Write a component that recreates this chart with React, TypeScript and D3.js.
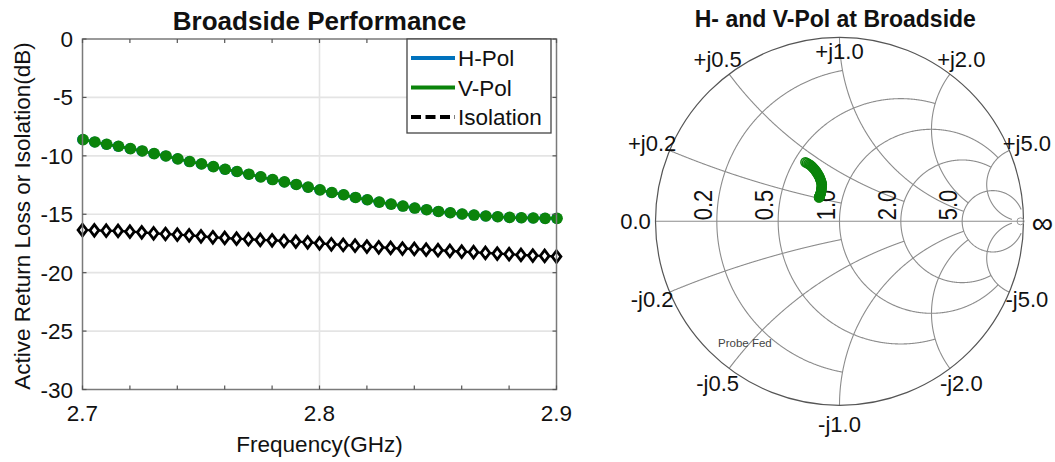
import React from 'react';
import * as d3 from 'd3';

// ---------------- data ----------------
const freqGHz = [
  2.700, 2.705, 2.710, 2.715, 2.720, 2.725, 2.730, 2.735, 2.740, 2.745,
  2.750, 2.755, 2.760, 2.765, 2.770, 2.775, 2.780, 2.785, 2.790, 2.795,
  2.800, 2.805, 2.810, 2.815, 2.820, 2.825, 2.830, 2.835, 2.840, 2.845,
  2.850, 2.855, 2.860, 2.865, 2.870, 2.875, 2.880, 2.885, 2.890, 2.895, 2.900,
];
const vPolDb = [
  -8.61, -8.81, -9.01, -9.18, -9.38, -9.58, -9.81, -10.01, -10.26, -10.49,
  -10.69, -10.92, -11.15, -11.34, -11.57, -11.80, -12.03, -12.23, -12.45, -12.68,
  -12.91, -13.14, -13.33, -13.56, -13.76, -13.96, -14.13, -14.30, -14.47, -14.61,
  -14.76, -14.87, -14.98, -15.07, -15.15, -15.21, -15.27, -15.30, -15.32, -15.35, -15.35,
];
const hPolDb = [
  -8.61, -8.81, -9.01, -9.18, -9.38, -9.58, -9.81, -10.01, -10.26, -10.49,
  -10.69, -10.92, -11.15, -11.34, -11.57, -11.80, -12.03, -12.23, -12.45, -12.68,
  -12.91, -13.14, -13.33, -13.56, -13.76, -13.96, -14.13, -14.30, -14.47, -14.61,
  -14.76, -14.87, -14.98, -15.07, -15.15, -15.21, -15.27, -15.30, -15.32, -15.35, -15.35,
];
const isolationDb = [
  -16.35, -16.38, -16.41, -16.43, -16.49, -16.55, -16.63, -16.69, -16.75, -16.80,
  -16.89, -16.97, -17.03, -17.09, -17.14, -17.20, -17.23, -17.29, -17.34, -17.40,
  -17.49, -17.57, -17.63, -17.69, -17.77, -17.83, -17.88, -17.94, -17.97, -18.03,
  -18.08, -18.14, -18.20, -18.25, -18.31, -18.37, -18.42, -18.48, -18.54, -18.57, -18.62,
];
// phase of the reflection coefficient (deg)
const vPolPhaseDeg = [
  120.0, 119.2, 118.4, 117.6, 117.1, 116.6, 116.2, 115.8, 115.4, 115.1,
  114.9, 114.7, 114.5, 114.4, 114.4, 114.4, 114.5, 114.6, 114.8, 115.0,
  115.2, 115.8, 116.6, 117.5, 118.4, 119.3, 120.2, 121.1, 122.0, 123.0,
  124.0, 125.2, 126.4, 127.0, 127.6, 128.2, 128.8, 129.3, 129.8, 130.3, 130.8,
];

const xTickValues = [2.7, 2.8, 2.9];
const xTickLabels = ['2.7', '2.8', '2.9'];
const xMinorTicks = [2.7, 2.72, 2.74, 2.76, 2.78, 2.8, 2.82, 2.84, 2.86, 2.88, 2.9];
const yTickValues = [0, -5, -10, -15, -20, -25, -30];
const yTickLabels = ['0', '-5', '-10', '-15', '-20', '-25', '-30'];
const legendLabels = ['H-Pol', 'V-Pol', 'Isolation'];

const smithGridValues = [0.2, 0.5, 1.0, 2.0, 5.0];
const smithGridEnds = [1.0, 2.0, 5.0, 5.0, 30];
const smithResLabels = ['0.2', '0.5', '1.0', '2.0', '5.0'];
const smithPosLabels = ['+j0.2', '+j0.5', '+j1.0', '+j2.0', '+j5.0'];
const smithNegLabels = ['-j0.2', '-j0.5', '-j1.0', '-j2.0', '-j5.0'];

// ---------------- styles ----------------
const FONT = '"Liberation Sans", Arial, Helvetica, sans-serif';
const GREEN = '#0b840b';
const BLUE = '#0072BD';

function gamma(r: number, xv: number): [number, number] {
  const d = (r + 1) * (r + 1) + xv * xv;
  return [(r * r + xv * xv - 1) / d, (2 * xv) / d];
}

export default function App() {
  // left chart
  const L = { left: 82.5, right: 556.5, top: 39, bottom: 389.5 };
  const x = d3.scaleLinear().domain([2.7, 2.9]).range([L.left, L.right]);
  const y = d3.scaleLinear().domain([-30, 0]).range([L.bottom, L.top]);
  const line = d3
    .line<number>()
    .x((_, i) => x(freqGHz[i]))
    .y((d) => y(d));

  const diamond = 'M0,-5.8L4.4,0L0,5.8L-4.4,0Z';

  // smith chart
  const S = { cx: 839.5, cy: 221.3, R: 184 };
  const sx = d3.scaleLinear().domain([-1, 1]).range([S.cx - S.R, S.cx + S.R]);
  const sy = d3.scaleLinear().domain([-1, 1]).range([S.cy + S.R, S.cy - S.R]);
  const gline = d3
    .line<[number, number]>()
    .x((p) => sx(p[0]))
    .y((p) => sy(p[1]));

  const N = 600;
  const resArcs = smithGridValues.map((r, i) => {
    const xe = smithGridEnds[i];
    const pts = d3.range(0, N + 1).map((k) => gamma(r, -xe + (2 * xe * k) / N));
    return gline(pts) as string;
  });
  const reactArcs: string[] = [];
  smithGridValues.forEach((v, i) => {
    const re = smithGridEnds[i];
    [1, -1].forEach((s) => {
      const pts = d3.range(0, N + 1).map((k) => gamma((re * k) / N, s * v));
      reactArcs.push(gline(pts) as string);
    });
  });

  const smithPts = vPolDb.map((db, i) => {
    const m = Math.pow(10, db / 20);
    const a = (vPolPhaseDeg[i] * Math.PI) / 180;
    return [m * Math.cos(a), m * Math.sin(a)] as [number, number];
  });

  const reactLabelPos = (v: number, s: number) => {
    const [gr, gi] = gamma(0, s * v);
    const d = s > 0 && v === 1 ? -14 : 19;
    return [sx(gr) + gr * d, sy(gi) - gi * d];
  };

  return (
    <svg
      width={1055}
      height={462}
      style={{ position: 'absolute', left: 0, top: 0, display: 'block', background: '#fff' }}
      fontFamily={FONT}
    >
      <rect x={0} y={0} width={1055} height={462} fill="#fff" />

      {/* ======== LEFT CHART ======== */}
      {yTickValues
        .filter((v) => v !== 0 && v !== -30)
        .map((v) => (
          <line key={'gy' + v} x1={L.left} x2={L.right} y1={y(v)} y2={y(v)} stroke="#e4e4e4" strokeWidth={1.6} />
        ))}
      {xTickValues
        .filter((v) => v !== 2.7 && v !== 2.9)
        .map((v) => (
          <line key={'gx' + v} x1={x(v)} x2={x(v)} y1={L.top} y2={L.bottom} stroke="#e4e4e4" strokeWidth={1.6} />
        ))}

      {/* isolation */}
      <path d={line(isolationDb) as string} fill="none" stroke="#000" strokeWidth={2.2} strokeDasharray="8,4" />
      {isolationDb.map((v, i) => (
        <path
          key={'iso' + i}
          d={diamond}
          transform={`translate(${x(freqGHz[i])},${y(v)})`}
          fill="#fff"
          stroke="#000"
          strokeWidth={2.8}
        />
      ))}

      {/* H-Pol */}
      <path d={line(hPolDb) as string} fill="none" stroke={BLUE} strokeWidth={2.5} />
      {hPolDb.map((v, i) => (
        <circle key={'h' + i} cx={x(freqGHz[i])} cy={y(v)} r={5.5} fill={BLUE} />
      ))}
      {/* V-Pol */}
      <path d={line(vPolDb) as string} fill="none" stroke={GREEN} strokeWidth={2.5} />
      {vPolDb.map((v, i) => (
        <circle key={'v' + i} cx={x(freqGHz[i]) + 0.6} cy={y(v)} r={5.8} fill={GREEN} />
      ))}

      {/* axes box */}
      <rect x={L.left} y={L.top} width={L.right - L.left} height={L.bottom - L.top} fill="none" stroke="#7a7a7a" strokeWidth={1.5} />
      {xMinorTicks.map((v, i) => (
        <g key={'xt' + i}>
          <line x1={x(v)} x2={x(v)} y1={L.bottom} y2={L.bottom - 4} stroke="#555" strokeWidth={1.2} />
          <line x1={x(v)} x2={x(v)} y1={L.top} y2={L.top + 4} stroke="#555" strokeWidth={1.2} />
        </g>
      ))}
      {yTickValues.map((v) => (
        <g key={'yt' + v}>
          <line x1={L.left} x2={L.left + 4} y1={y(v)} y2={y(v)} stroke="#555" strokeWidth={1.2} />
          <line x1={L.right} x2={L.right - 4} y1={y(v)} y2={y(v)} stroke="#555" strokeWidth={1.2} />
        </g>
      ))}

      {/* tick labels */}
      {yTickValues.map((v, i) => (
        <text key={'yl' + v} x={73} y={y(v) + 8} fontSize={22.5} textAnchor="end" fill="#111">
          {yTickLabels[i]}
        </text>
      ))}
      {xTickValues.map((v, i) => (
        <text key={'xl' + v} x={x(v)} y={421} fontSize={22.5} textAnchor="middle" fill="#111">
          {xTickLabels[i]}
        </text>
      ))}

      {/* legend */}
      <rect x={407} y={39} width={144} height={94} fill="#fff" stroke="#444" strokeWidth={1.3} />
      {legendLabels.map((lab, i) => {
        const ly = 58 + i * 29.5;
        const col = i === 0 ? BLUE : i === 1 ? GREEN : '#000';
        return (
          <g key={'lg' + i}>
            <line
              x1={411}
              x2={455}
              y1={ly}
              y2={ly}
              stroke={col}
              strokeWidth={4}
              strokeDasharray={i === 2 ? '10,4.5' : undefined}
            />
            <text x={458} y={ly + 8} fontSize={22.5} fill="#111">
              {lab}
            </text>
          </g>
        );
      })}

      {/* titles and axis labels */}
      <text x={319.5} y={30} fontSize={26} fontWeight="bold" textAnchor="middle" fill="#111">
        Broadside Performance
      </text>
      <text x={319.5} y={452} fontSize={22.5} textAnchor="middle" fill="#111">
        Frequency(GHz)
      </text>
      <text transform="translate(30,216) rotate(-90)" fontSize={22.5} textAnchor="middle" fill="#111">
        Active Return Loss or Isolation(dB)
      </text>

      {/* ======== SMITH CHART ======== */}
      <text x={835.3} y={26.7} fontSize={23} fontWeight="bold" textAnchor="middle" fill="#111">
        H- and V-Pol at Broadside
      </text>
      <g fill="none" stroke="#8c8c8c" strokeWidth={1.1}>
        {resArcs.map((d, i) => (
          <path key={'ra' + i} d={d} />
        ))}
        {reactArcs.map((d, i) => (
          <path key={'xa' + i} d={d} />
        ))}
        <line x1={sx(-1)} x2={sx(1)} y1={sy(0)} y2={sy(0)} />
      </g>
      <circle cx={sx(0)} cy={sy(0)} r={sx(1) - sx(0)} fill="none" stroke="#555" strokeWidth={1.2} />

      {/* resistance labels */}
      {smithGridValues.map((r, i) => (
        <text
          key={'rl' + i}
          transform={`translate(${sx(gamma(r, 0)[0]) - 5},${sy(0) - 1}) rotate(-90) scale(1,1.18)`}
          fontSize={22}
          fill="#111"
        >
          {smithResLabels[i]}
        </text>
      ))}
      <text x={sx(-1) - 20} y={sy(0) + 7.7} fontSize={22} textAnchor="middle" fill="#111">
        0.0
      </text>
      <text x={sx(1) + 19} y={sy(0) + 12} fontSize={30} textAnchor="middle" fill="#111">
        ∞
      </text>
      {smithGridValues.map((v, i) => {
        const [px, py] = reactLabelPos(v, 1);
        const [nx, ny] = reactLabelPos(v, -1);
        return (
          <g key={'xl' + i}>
            <text x={px} y={py + 7.7} fontSize={22} textAnchor="middle" fill="#111">
              {smithPosLabels[i]}
            </text>
            <text x={nx} y={ny + 7.7} fontSize={22} textAnchor="middle" fill="#111">
              {smithNegLabels[i]}
            </text>
          </g>
        );
      })}

      {/* data */}
      <circle cx={sx(1) - 3} cy={sy(0)} r={3.5} fill="none" stroke="#999" strokeWidth={1} />
      {smithPts.map((p, i) => (
        <circle
          key={'sp' + i}
          cx={sx(p[0])}
          cy={sy(p[1])}
          r={4.5}
          fill={GREEN}
          fillOpacity={0.3}
          stroke={GREEN}
          strokeWidth={1.5}
        />
      ))}

      <text x={718} y={347} fontSize={11.5} fill="#444">
        Probe Fed
      </text>
    </svg>
  );
}
